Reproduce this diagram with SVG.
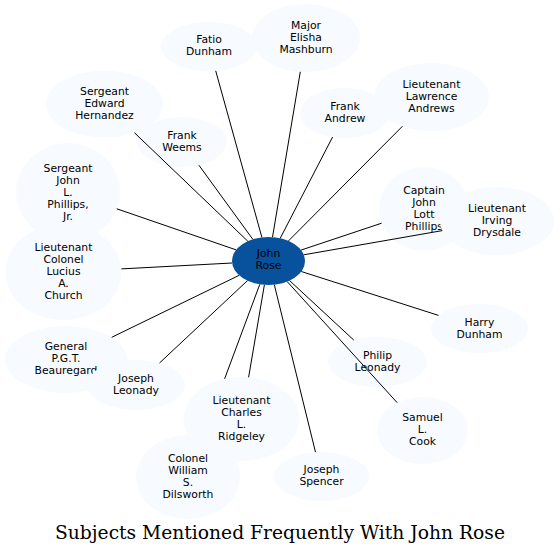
<svg xmlns="http://www.w3.org/2000/svg" width="560" height="555" viewBox="0 0 560 555">
<style>
.n ellipse{fill:#f7fbff;stroke:none}
.c ellipse{fill:#08519c;stroke:none}
text{font-family:"DejaVu Sans",sans-serif;font-size:10.8px;text-anchor:middle;fill:#000}
.title{font-family:"DejaVu Serif",serif;font-size:18px}
#edges line{stroke:#000;stroke-width:1}
</style>
<rect width="560" height="555" fill="#fff"/>
<g id="fatio-dunham" class="n"><ellipse cx="209" cy="46.5" rx="48" ry="24.5"/><text x="209" y="42.8"><tspan x="209">Fatio</tspan><tspan x="209" dy="12">Dunham</tspan></text></g>
<g id="major-elisha-mashburn" class="n"><ellipse cx="306" cy="38" rx="54" ry="34"/><text x="306" y="28.8"><tspan x="306">Major</tspan><tspan x="306" dy="12">Elisha</tspan><tspan x="306" dy="12">Mashburn</tspan></text></g>
<g id="frank-andrew" class="n"><ellipse cx="345" cy="113" rx="45" ry="25"/><text x="345" y="109.8"><tspan x="345">Frank</tspan><tspan x="345" dy="12">Andrew</tspan></text></g>
<g id="lieutenant-lawrence-andrews" class="n"><ellipse cx="431.5" cy="97" rx="57.5" ry="34"/><text x="431.5" y="87.8"><tspan x="431.5">Lieutenant</tspan><tspan x="431.5" dy="12">Lawrence</tspan><tspan x="431.5" dy="12">Andrews</tspan></text></g>
<g id="captain-john-lott-phillips" class="n"><ellipse cx="424" cy="209" rx="45" ry="42"/><text x="424" y="193.8"><tspan x="424">Captain</tspan><tspan x="424" dy="12">John</tspan><tspan x="424" dy="12">Lott</tspan><tspan x="424" dy="12">Phillips</tspan></text></g>
<g id="lieutenant-irving-drysdale" class="n"><ellipse cx="497" cy="221" rx="57" ry="34"/><text x="497" y="211.8"><tspan x="497">Lieutenant</tspan><tspan x="497" dy="12">Irving</tspan><tspan x="497" dy="12">Drysdale</tspan></text></g>
<g id="harry-dunham" class="n"><ellipse cx="479.5" cy="328.5" rx="48.5" ry="24.5"/><text x="479.5" y="325.8"><tspan x="479.5">Harry</tspan><tspan x="479.5" dy="12">Dunham</tspan></text></g>
<g id="philip-leonady" class="n"><ellipse cx="377.5" cy="362" rx="49.5" ry="25"/><text x="377.5" y="358.8"><tspan x="377.5">Philip</tspan><tspan x="377.5" dy="12">Leonady</tspan></text></g>
<g id="samuel-l-cook" class="n"><ellipse cx="422.5" cy="430.5" rx="45.5" ry="33.5"/><text x="422.5" y="420.8"><tspan x="422.5">Samuel</tspan><tspan x="422.5" dy="12">L.</tspan><tspan x="422.5" dy="12">Cook</tspan></text></g>
<g id="joseph-spencer" class="n"><ellipse cx="321.5" cy="476.5" rx="47.5" ry="24.5"/><text x="321.5" y="472.8"><tspan x="321.5">Joseph</tspan><tspan x="321.5" dy="12">Spencer</tspan></text></g>
<g id="colonel-william-s-dilsworth" class="n"><ellipse cx="188" cy="477" rx="52" ry="42"/><text x="188" y="461.8"><tspan x="188">Colonel</tspan><tspan x="188" dy="12">William</tspan><tspan x="188" dy="12">S.</tspan><tspan x="188" dy="12">Dilsworth</tspan></text></g>
<g id="lieutenant-charles-l-ridgeley" class="n"><ellipse cx="241.5" cy="419" rx="58" ry="42"/><text x="241.5" y="403.8"><tspan x="241.5">Lieutenant</tspan><tspan x="241.5" dy="12">Charles</tspan><tspan x="241.5" dy="12">L.</tspan><tspan x="241.5" dy="12">Ridgeley</tspan></text></g>
<g id="general-pgt-beauregard" class="n"><ellipse cx="66" cy="359.5" rx="61" ry="33.5"/><text x="66" y="349.8"><tspan x="66">General</tspan><tspan x="66" dy="12">P.G.T.</tspan><tspan x="66" dy="12">Beauregard</tspan></text></g>
<g id="joseph-leonady" class="n"><ellipse cx="136" cy="385" rx="49" ry="25"/><text x="136" y="381.8"><tspan x="136">Joseph</tspan><tspan x="136" dy="12">Leonady</tspan></text></g>
<g id="sergeant-john-l-phillips-jr" class="n"><ellipse cx="68" cy="192" rx="52" ry="49"/><text x="68" y="171.8"><tspan x="68">Sergeant</tspan><tspan x="68" dy="12">John</tspan><tspan x="68" dy="12">L.</tspan><tspan x="68" dy="12">Phillips,</tspan><tspan x="68" dy="12">Jr.</tspan></text></g>
<g id="lieutenant-colonel-lucius-a-church" class="n"><ellipse cx="63.5" cy="272" rx="58" ry="48"/><text x="63.5" y="250.8"><tspan x="63.5">Lieutenant</tspan><tspan x="63.5" dy="12">Colonel</tspan><tspan x="63.5" dy="12">Lucius</tspan><tspan x="63.5" dy="12">A.</tspan><tspan x="63.5" dy="12">Church</tspan></text></g>
<g id="frank-weems" class="n"><ellipse cx="182" cy="142" rx="45" ry="25"/><text x="182" y="138.8"><tspan x="182">Frank</tspan><tspan x="182" dy="12">Weems</tspan></text></g>
<g id="sergeant-edward-hernandez" class="n"><ellipse cx="104.5" cy="104" rx="58.5" ry="33.5"/><text x="104.5" y="94.8"><tspan x="104.5">Sergeant</tspan><tspan x="104.5" dy="12">Edward</tspan><tspan x="104.5" dy="12">Hernandez</tspan></text></g>
<g id="john-rose" class="c"><ellipse cx="268.5" cy="261" rx="36.5" ry="24"/><text x="268.5" y="256.8"><tspan x="268.5">John</tspan><tspan x="268.5" dy="12">Rose</tspan></text></g>
<g id="edges">
<line x1="261.9" y1="237.4" x2="215.7" y2="70.8"/>
<line x1="272.5" y1="237.1" x2="300.3" y2="71.8"/>
<line x1="280.2" y1="238.3" x2="332.6" y2="137.0"/>
<line x1="288.5" y1="240.9" x2="402.4" y2="126.3"/>
<line x1="301.0" y1="250.1" x2="381.6" y2="223.2"/>
<line x1="303.8" y1="254.8" x2="442.3" y2="230.6"/>
<line x1="301.3" y1="271.5" x2="438.5" y2="315.4"/>
<line x1="289.6" y1="280.6" x2="353.8" y2="340.1"/>
<line x1="287.2" y1="281.6" x2="397.2" y2="402.7"/>
<line x1="274.3" y1="284.7" x2="315.5" y2="452.2"/>
<line x1="264.4" y1="284.8" x2="248.6" y2="377.3"/>
<line x1="259.8" y1="284.3" x2="224.6" y2="378.8"/>
<line x1="247.5" y1="280.6" x2="159.5" y2="363.0"/>
<line x1="239.2" y1="275.3" x2="111.7" y2="337.3"/>
<line x1="232.1" y1="263.0" x2="121.4" y2="268.9"/>
<line x1="236.2" y1="249.9" x2="116.8" y2="208.8"/>
<line x1="247.8" y1="241.2" x2="134.5" y2="132.8"/>
<line x1="252.8" y1="239.3" x2="198.9" y2="165.2"/>
</g>
<text class="title" x="280" y="539" textLength="450" lengthAdjust="spacingAndGlyphs">Subjects Mentioned Frequently With John Rose</text>
</svg>
